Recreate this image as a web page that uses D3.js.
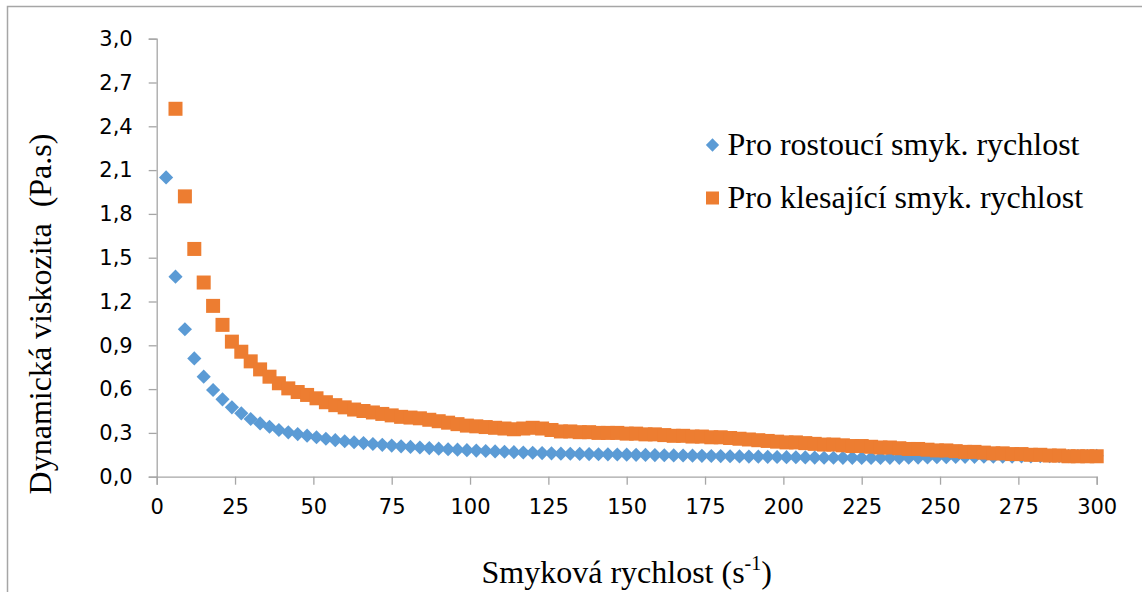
<!DOCTYPE html>
<html lang="cs">
<head>
<meta charset="UTF-8">
<title>Dynamická viskozita</title>
<script src="https://d3js.org/d3.v7.min.js"></script>
<style>
  body { margin: 0; background: #fff; }
  .tick text { font-family: "DejaVu Sans", sans-serif; font-size: 21px; fill: #000; }
  .axis path, .axis line { stroke: #a6a6a6; stroke-width: 1.3; }
  .title { font-family: "Liberation Serif", "Times New Roman", serif; font-size: 32px; fill: #000; }
  .legend text { font-family: "Liberation Serif", "Times New Roman", serif; font-size: 32px; fill: #000; }
</style>
</head>
<body>
<div id="chart"></div>
<script>
// shear rate (s^-1) and dynamic viscosity (Pa.s)
const rateUp = d3.range(3, 301, 3);
const viscUp = [
  2.05, 1.37, 1.01, 0.81, 0.685, 0.594, 0.53, 0.475, 0.434, 0.395,
  0.365, 0.342, 0.32, 0.304, 0.292, 0.281, 0.27, 0.26, 0.25, 0.243,
  0.236, 0.23, 0.224, 0.218, 0.213, 0.208, 0.204, 0.2, 0.196, 0.192,
  0.188, 0.185, 0.182, 0.179, 0.176, 0.173, 0.171, 0.168, 0.166, 0.164,
  0.162, 0.16, 0.158, 0.157, 0.156, 0.155, 0.154, 0.153, 0.152, 0.151,
  0.15, 0.149, 0.148, 0.147, 0.146, 0.145, 0.144, 0.143, 0.142, 0.141,
  0.14, 0.139, 0.138, 0.137, 0.136, 0.135, 0.134, 0.133, 0.132, 0.131,
  0.13, 0.13, 0.129, 0.129, 0.128, 0.128, 0.128, 0.129, 0.129, 0.13,
  0.131, 0.132, 0.133, 0.134, 0.135, 0.136, 0.136, 0.137, 0.137, 0.138,
  0.138, 0.139, 0.139, 0.14, 0.14, 0.141, 0.141, 0.142, 0.142, 0.143
];
const rateDown = d3.range(6, 301, 3);
const viscDown = [
  2.52, 1.92, 1.56, 1.33, 1.17, 1.04, 0.925, 0.856, 0.79, 0.735,
  0.685, 0.64, 0.605, 0.58, 0.56, 0.537, 0.51, 0.49, 0.475, 0.46,
  0.45, 0.44, 0.43, 0.42, 0.41, 0.405, 0.4, 0.39, 0.38, 0.37,
  0.36, 0.35, 0.345, 0.34, 0.335, 0.33, 0.325, 0.33, 0.335, 0.33,
  0.32, 0.31, 0.31, 0.305, 0.305, 0.3, 0.3, 0.3, 0.295, 0.295,
  0.29, 0.29, 0.285, 0.28, 0.28, 0.275, 0.275, 0.27, 0.27, 0.265,
  0.26, 0.255, 0.25, 0.245, 0.24, 0.235, 0.235, 0.23, 0.225, 0.22,
  0.22, 0.215, 0.21, 0.21, 0.205, 0.2, 0.2, 0.195, 0.19, 0.19,
  0.185, 0.18, 0.18, 0.175, 0.17, 0.17, 0.165, 0.16, 0.16, 0.155,
  0.155, 0.15, 0.15, 0.145, 0.145, 0.14, 0.14, 0.14, 0.14
];
const xTicks = d3.range(0, 301, 25);
const yTicks = d3.range(0, 31, 3).map(v => v / 10);
const seriesNames = ["Pro rostoucí smyk. rychlost", "Pro klesající smyk. rychlost"];
const colors = ["#5b9bd5", "#ed7d31"];

const W = 1142, H = 592;
const margin = { top: 38.7, right: 45.3, bottom: 115.3, left: 156.7 };
const width = W - margin.left - margin.right;
const height = H - margin.top - margin.bottom;

const svg = d3.select("#chart").append("svg")
  .attr("width", W).attr("height", H);

svg.append("rect")
  .attr("x", 7.5).attr("y", 6.5)
  .attr("width", W + 20).attr("height", H + 20)
  .attr("fill", "none").attr("stroke", "#a6a6a6").attr("stroke-width", 1.5);

const g = svg.append("g").attr("transform", `translate(${margin.left},${margin.top})`);

const x = d3.scaleLinear().domain([0, 300]).range([0, width]);
const y = d3.scaleLinear().domain([0, 3]).range([height, 0]);

const fmt = d => d.toFixed(1).replace(".", ",");

g.append("g").attr("class", "axis")
  .call(d3.axisLeft(y).tickValues(yTicks).tickFormat(fmt).tickSize(8).tickPadding(16));

g.append("g").attr("class", "axis")
  .attr("transform", `translate(0,${height})`)
  .call(d3.axisBottom(x).tickValues(xTicks).tickFormat(d3.format("d")).tickSize(8).tickPadding(14));

const up = rateUp.map((r, i) => ({ r, v: viscUp[i] }));
const down = rateDown.map((r, i) => ({ r, v: viscDown[i] }));

const diamond = d3.symbol().type(d3.symbolDiamond2).size(128);
const sq = 14;

g.append("g").selectAll("path")
  .data(up).join("path")
  .attr("d", diamond)
  .attr("transform", d => `translate(${x(d.r)},${y(d.v)})`)
  .attr("fill", colors[0]);

g.append("g").selectAll("rect")
  .data(down).join("rect")
  .attr("x", d => x(d.r) - sq / 2).attr("y", d => y(d.v) - sq / 2)
  .attr("width", sq).attr("height", sq)
  .attr("fill", colors[1]);

// axis titles
svg.append("text").attr("class", "title")
  .attr("text-anchor", "middle")
  .attr("font-size", "33px")
  .attr("transform", `translate(${margin.left + width / 2},583)`)
  .call(t => {
    t.append("tspan").text("Smyková rychlost (s");
    t.append("tspan").attr("font-size", "20px").attr("dy", -13).text("-1");
    t.append("tspan").attr("dy", 13).text(")");
  });

svg.append("text").attr("class", "title")
  .attr("text-anchor", "middle")
  .attr("transform", `translate(51,314) rotate(-90)`)
  .style("white-space", "pre")
  .text("Dynamická viskozita  (Pa.s)");

// legend
const legend = svg.append("g").attr("class", "legend");
seriesNames.forEach((name, i) => {
  const row = legend.append("g").attr("transform", `translate(712.5,${145 + i * 53})`);
  if (i === 0) {
    row.append("path").attr("d", d3.symbol().type(d3.symbolDiamond2).size(112)).attr("fill", colors[0]);
  } else {
    row.append("rect").attr("x", -6.5).attr("y", -6.5).attr("width", 13).attr("height", 13).attr("fill", colors[1]);
  }
  row.append("text").attr("x", 15).attr("y", 10).text(name);
});
</script>
</body>
</html>
